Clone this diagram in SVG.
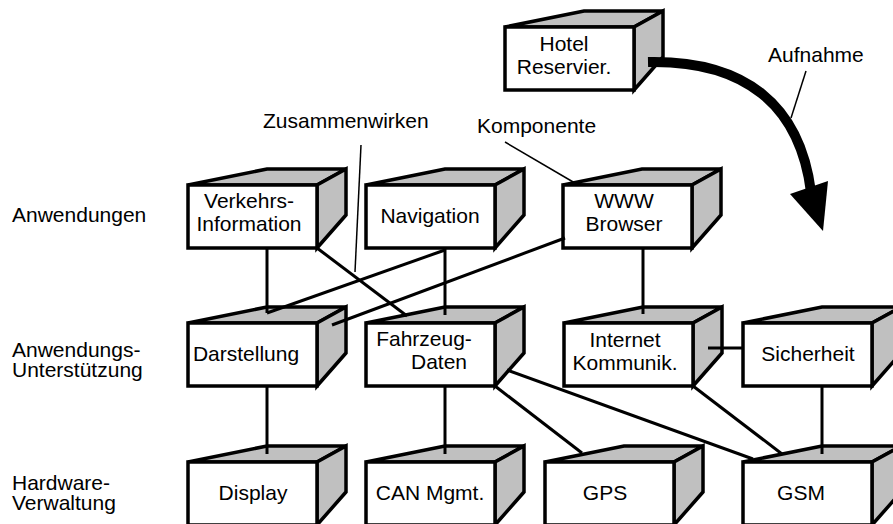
<svg xmlns="http://www.w3.org/2000/svg" xmlns:xlink="http://www.w3.org/1999/xlink" width="893" height="524" viewBox="0 0 893 524">
<style>
text{font-family:"Liberation Sans",Arial,sans-serif;font-size:21px;fill:#000}
.c{text-anchor:middle}
.face{fill:#c0c0c0;stroke:#000;stroke-width:3.5;stroke-linejoin:miter}
.front{fill:#fff;stroke:#000;stroke-width:3.5}
.con line{stroke:#000;stroke-width:3}
.ptr{stroke:#000;stroke-width:1.5}
</style>
<defs>
<g id="box">
<polygon class="face" points="0,0 79,-16 158,-16 129,0"/>
<polygon class="face" points="129,0 158,-16 158,30 129,63"/>
<rect class="front" x="0" y="0" width="129" height="63"/>
</g>
</defs>
<rect width="893" height="524" fill="#fff"/>

<g id="labels">
<text x="12" y="222">Anwendungen</text>
<text x="12" y="357">Anwendungs-</text>
<text x="12" y="377">Unterstützung</text>
<text x="12" y="490">Hardware-</text>
<text x="12" y="510">Verwaltung</text>
<text x="263" y="128">Zusammenwirken</text>
<text x="477" y="133">Komponente</text>
<text x="768" y="62">Aufnahme</text>
<line class="ptr" x1="361" y1="145" x2="355" y2="272"/>
<line class="ptr" x1="505" y1="142" x2="580" y2="186"/>
<line class="ptr" x1="806" y1="71" x2="791" y2="118"/>
</g>

<g id="hotel"><use xlink:href="#box" x="505" y="27"/><text class="c" x="564" y="51">Hotel</text><text class="c" x="564" y="74">Reservier.</text></g>
<g id="verkehrs"><use xlink:href="#box" x="188" y="185"/><text class="c" x="249" y="208">Verkehrs-</text><text class="c" x="249" y="231">Information</text></g>
<g id="navigation"><use xlink:href="#box" x="366" y="185"/><text class="c" x="430" y="223">Navigation</text></g>
<g id="www"><use xlink:href="#box" x="563" y="185"/><text class="c" x="624" y="208">WWW</text><text class="c" x="624" y="231">Browser</text></g>
<g id="darstellung"><use xlink:href="#box" x="188" y="323"/><text class="c" x="246" y="361">Darstellung</text></g>
<g id="fahrzeug"><use xlink:href="#box" x="366" y="323"/><text class="c" x="424" y="346">Fahrzeug-</text><text class="c" x="439" y="369">Daten</text></g>
<g id="internet"><use xlink:href="#box" x="564" y="323"/><text class="c" x="625" y="347">Internet</text><text class="c" x="625" y="370">Kommunik.</text></g>
<g id="sicherheit"><use xlink:href="#box" x="743" y="323"/><text class="c" x="808" y="361">Sicherheit</text></g>
<g id="display"><use xlink:href="#box" x="188" y="462"/><text class="c" x="253" y="500">Display</text></g>
<g id="can"><use xlink:href="#box" x="366" y="462"/><text class="c" x="430" y="500">CAN Mgmt.</text></g>
<g id="gps"><use xlink:href="#box" x="545" y="462"/><text class="c" x="605" y="500">GPS</text></g>
<g id="gsm"><use xlink:href="#box" x="743" y="462"/><text class="c" x="801" y="500">GSM</text></g>

<g id="connectors" class="con">
<line x1="267" y1="248" x2="267" y2="313"/>
<line x1="317" y1="248" x2="407" y2="316"/>
<line x1="445" y1="248" x2="445" y2="315"/>
<line x1="445" y1="250" x2="267" y2="313"/>
<line x1="565" y1="238" x2="332" y2="325"/>
<line x1="643" y1="248" x2="643" y2="314"/>
<line x1="708" y1="348" x2="743" y2="348"/>
<line x1="267" y1="386" x2="267" y2="454"/>
<line x1="445" y1="386" x2="445" y2="454"/>
<line x1="495" y1="386" x2="582" y2="453"/>
<line x1="507" y1="370" x2="753" y2="459"/>
<line x1="693" y1="386" x2="782" y2="454"/>
<line x1="822" y1="386" x2="822" y2="454"/>
</g>
<g id="aufnahme-arrow">
<path d="M648,62 C745,60 800,105 811,192" fill="none" stroke="#000" stroke-width="10"/>
<polygon points="790,194 828,181 823,231" fill="#000"/>
</g>
</svg>
